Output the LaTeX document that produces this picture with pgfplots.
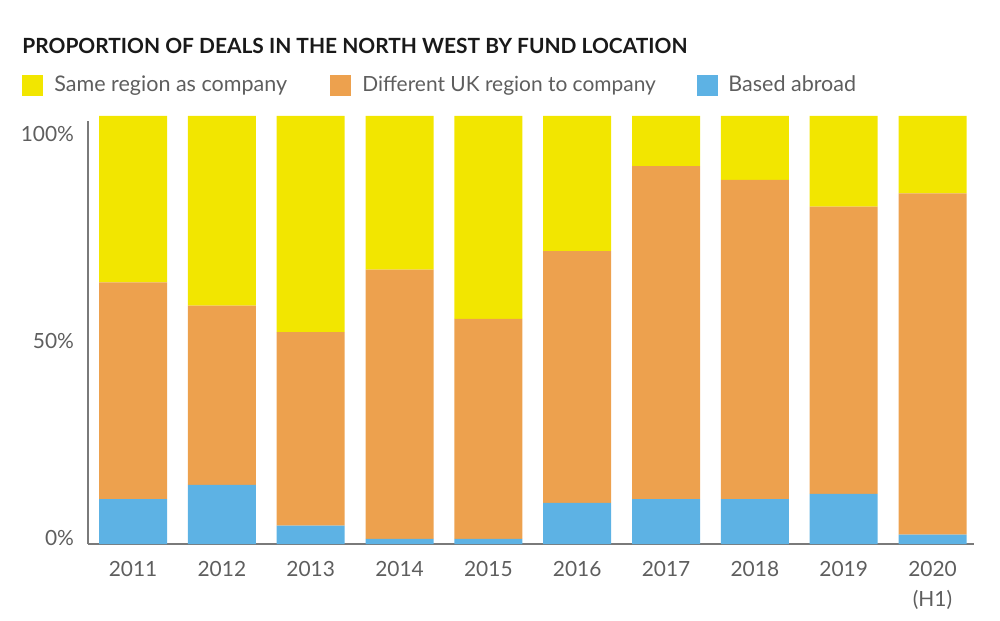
\documentclass[border=0pt]{standalone}
\usepackage{pgfplots}
\pgfplotsset{compat=1.18}
\usepackage{fontspec}
\setmainfont{Lato}
\definecolor{cyellow}{HTML}{F2E600}
\definecolor{corange}{HTML}{EDA14E}
\definecolor{cblue}{HTML}{5DB2E4}
\definecolor{ctext}{HTML}{5E5E5E}
\definecolor{caxis}{HTML}{7A7A7A}
\begin{document}
\begin{tikzpicture}
% canvas: 1 px of the reference = 0.5bp
\path[use as bounding box] (0,0) rectangle (500bp,310.5bp);
% title
\node[anchor=base west, inner sep=0pt, text=black!90]
  at (11bp,283.5bp) {\fontsize{10.5}{12}\selectfont\bfseries PROPORTION OF DEALS IN THE NORTH WEST BY FUND LOCATION};
% legend
\fill[cyellow] (11bp,262.5bp) rectangle +(10.5bp,10.5bp);
\node[anchor=base west, inner sep=0pt, text=ctext] at (27bp,264.5bp) {\fontsize{10.8}{13}\selectfont Same region as company};
\fill[corange] (165bp,262.5bp) rectangle +(10.5bp,10.5bp);
\node[anchor=base west, inner sep=0pt, text=ctext] at (181bp,264.5bp) {\fontsize{10.5}{13}\selectfont Different UK region to company};
\fill[cblue] (348.5bp,262.5bp) rectangle +(10.5bp,10.5bp);
\node[anchor=base west, inner sep=0pt, text=ctext] at (364bp,264.5bp) {\fontsize{10.8}{13}\selectfont Based abroad};
\begin{axis}[
    at={(44bp,38.5bp)}, anchor=south west,
    scale only axis,
    width=443bp, height=214bp,
    ybar stacked,
    bar width=34bp,
    xmin=-0.507, xmax=9.467,
    ymin=0, ymax=100,
    axis x line*=bottom,
    axis y line*=left,
    x axis line style={caxis, line width=1.2bp, -},
    y axis line style={draw=none},
    xtick={0,...,9},
    xticklabels={2011,2012,2013,2014,2015,2016,2017,2018,2019,{2020\\(H1)}},
    ytick={1.4,47.5,95.8},
    yticklabels={0\%,50\%,100\%},
    major tick length=0pt,
    tick label style={text=ctext, font=\fontsize{10.5}{15}\selectfont},
    xticklabel style={align=center, anchor=north, yshift=-5bp},
    yticklabel style={anchor=east, xshift=-3.5bp},
    /pgf/number format/assume math mode=true,
    clip=false,
]
% left axis line stops a little below the top of the bars
\draw[caxis, line width=0.6bp] (axis cs:-0.507,0) -- (axis cs:-0.507,98.8);
% based abroad
\addplot[fill=cblue, draw=none] coordinates {
  (0,10.5) (1,13.8) (2,4.3) (3,1.2) (4,1.2) (5,9.6) (6,10.5) (7,10.5) (8,11.7) (9,2.2)};
% different UK region
\addplot[fill=corange, draw=none] coordinates {
  (0,50.6) (1,41.9) (2,45.2) (3,62.9) (4,51.4) (5,58.8) (6,77.8) (7,74.6) (8,67.1) (9,79.7)};
% same region
\addplot[fill=cyellow, draw=none] coordinates {
  (0,38.9) (1,44.3) (2,50.5) (3,35.9) (4,47.4) (5,31.6) (6,11.7) (7,14.9) (8,21.2) (9,18.1)};
\end{axis}
\end{tikzpicture}
\end{document}
